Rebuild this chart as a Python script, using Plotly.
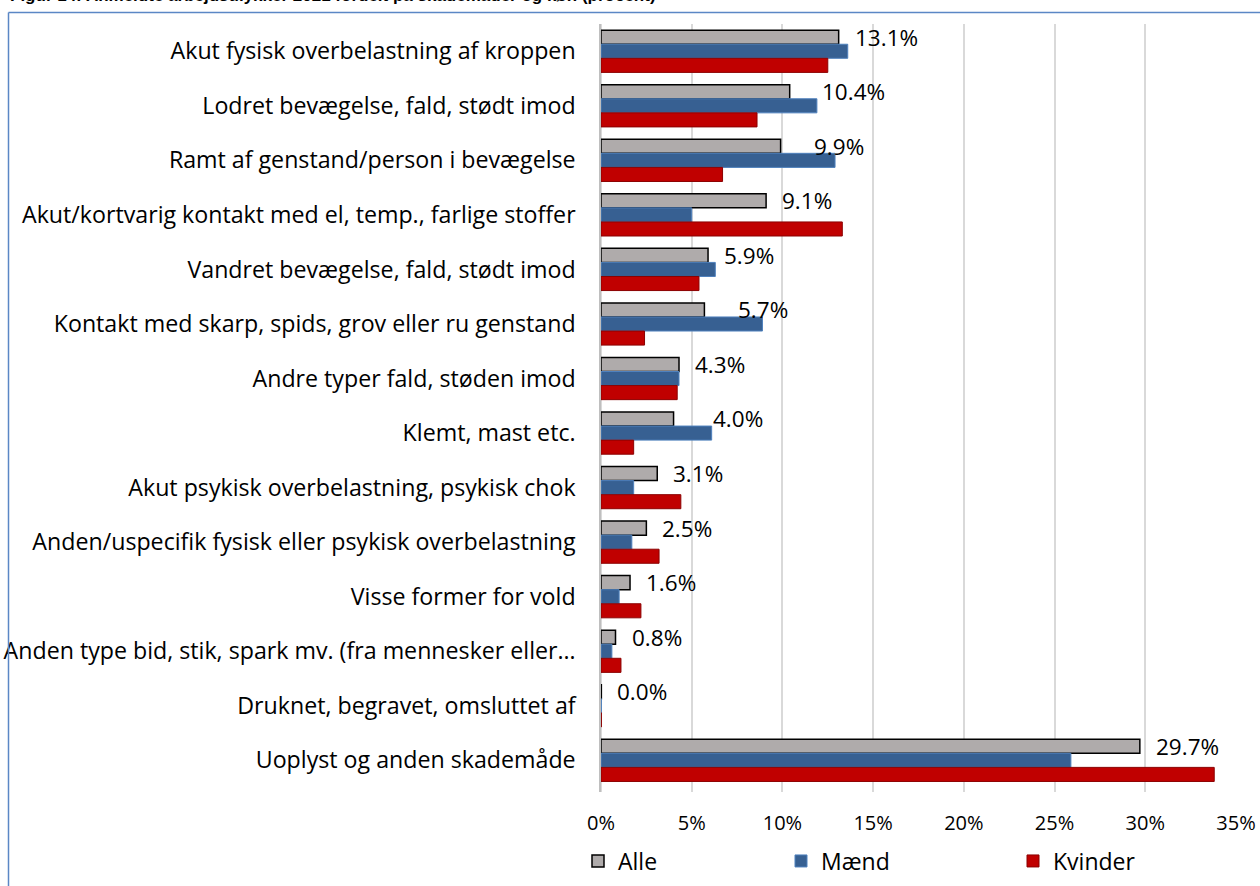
import plotly.graph_objects as go

categories = [
    "Akut fysisk overbelastning af kroppen",
    "Lodret bevægelse, fald, stødt imod",
    "Ramt af genstand/person i bevægelse",
    "Akut/kortvarig kontakt med el, temp., farlige stoffer",
    "Vandret bevægelse, fald, stødt imod",
    "Kontakt med skarp, spids, grov eller ru genstand",
    "Andre typer fald, støden imod",
    "Klemt, mast etc.",
    "Akut psykisk overbelastning, psykisk chok",
    "Anden/uspecifik fysisk eller psykisk overbelastning",
    "Visse former for vold",
    "Anden type bid, stik, spark mv. (fra mennesker eller…",
    "Druknet, begravet, omsluttet af",
    "Uoplyst og anden skademåde",
]
alle = [13.1, 10.4, 9.9, 9.1, 5.9, 5.7, 4.3, 4.0, 3.1, 2.5, 1.6, 0.8, 0.02, 29.7]
maend = [13.6, 11.9, 12.9, 5.0, 6.3, 8.9, 4.3, 6.1, 1.8, 1.7, 1.0, 0.6, 0.02, 25.9]
kvinder = [12.5, 8.6, 6.7, 13.3, 5.4, 2.4, 4.2, 1.8, 4.4, 3.2, 2.2, 1.1, 0.02, 33.8]
x_ticks = [0, 5, 10, 15, 20, 25, 30, 35]
x_ticklabels = ["0%", "5%", "10%", "15%", "20%", "25%", "30%", "35%"]
title_text = "Figur 14: Anmeldte arbejdsulykker 2021 fordelt på skademåder og køn (procent)"

# label pixel offsets (style)
label_shift = [16, 32, 33, 16, 16, 34, 16, 39, 16, 16, 16, 16, 16, 16]

W, H = 1260, 886
ML, MR, MT, MB = 601, 24, 24, 94
PW, PH = W - ML - MR, H - MT - MB
FONT = "Open Sans, Noto Sans, Arial, sans-serif"
BARGAP = 0.226

fig = go.Figure()
fig.add_trace(go.Bar(y=categories, x=alle, orientation="h", name="Alle",
                     marker=dict(color="#AFABAB", line=dict(color="#000000", width=1.5)),
                     legend="legend"))
fig.add_trace(go.Bar(y=categories, x=maend, orientation="h", name="Mænd",
                     marker=dict(color="#376092", line=dict(color="#4F81BD", width=1)),
                     legend="legend2"))
fig.add_trace(go.Bar(y=categories, x=kvinder, orientation="h", name="Kvinder",
                     marker=dict(color="#C00000", line=dict(color="#8B0000", width=1)),
                     legend="legend3"))

cat_px = PH / len(categories)
bar_px = cat_px * (1 - BARGAP) / 3
for i, (c, v) in enumerate(zip(categories, alle)):
    fig.add_annotation(x=v, y=c, xref="x", yref="y", text=f"{round(v, 1):.1f}%",
                       showarrow=False, xanchor="left", yanchor="middle",
                       xshift=label_shift[i] - 2, yshift=bar_px,
                       font=dict(family=FONT, size=22.5, color="#000000"))

def px_x(p):
    return (p - ML) / PW

def px_y(p):
    return (H - MB - p) / PH

# title (cropped at the top edge, as in the source)
fig.add_annotation(x=px_x(8), y=px_y(7), xref="paper", yref="paper", text=f"<b>{title_text}</b>",
                   showarrow=False, xanchor="left", yanchor="bottom",
                   font=dict(family="Liberation Sans, Arial, sans-serif", size=17, color="#000000"))

frame_col = "#5B87C5"
fig.add_shape(type="line", xref="paper", yref="paper", x0=px_x(8.5), x1=px_x(1262),
              y0=px_y(12.5), y1=px_y(12.5), line=dict(color=frame_col, width=1.5))
fig.add_shape(type="line", xref="paper", yref="paper", x0=px_x(8.5), x1=px_x(8.5),
              y0=px_y(12.5), y1=px_y(890), line=dict(color=frame_col, width=1.5))

legend_common = dict(orientation="h", yanchor="middle", xanchor="left",
                     font=dict(family=FONT, size=23, color="#000000"),
                     bgcolor="rgba(0,0,0,0)", itemwidth=30)
fig.update_layout(
    width=W, height=H,
    margin=dict(l=ML, r=MR, t=MT, b=MB, autoexpand=False),
    paper_bgcolor="white", plot_bgcolor="white",
    barmode="group", bargap=BARGAP, bargroupgap=0,
    showlegend=True,
    legend=dict(**legend_common, x=px_x(578), y=px_y(861)),
    legend2=dict(**legend_common, x=px_x(781), y=px_y(861)),
    legend3=dict(**legend_common, x=px_x(1013), y=px_y(861)),
    font=dict(family=FONT, size=20, color="#000000"),
)
fig.update_xaxes(range=[0, 35], tickvals=x_ticks, ticktext=x_ticklabels,
                 showgrid=True, gridcolor="#D9D9D9", gridwidth=1.5,
                 zeroline=True, zerolinecolor="#D9D9D9", zerolinewidth=1.5,
                 showline=False, ticks="", ticklabelstandoff=17, automargin=False,
                 tickfont=dict(family=FONT, size=20, color="#000000"))
fig.update_yaxes(autorange="reversed", showgrid=False, showline=True,
                 linecolor="#BFBFBF", linewidth=1.5, ticks="",
                 ticklabelstandoff=19, automargin=False,
                 tickfont=dict(family=FONT, size=23.2, color="#000000"))

fig.write_html("out.html", config={"displayModeBar": False},
               post_script="document.body.style.margin='0';")
